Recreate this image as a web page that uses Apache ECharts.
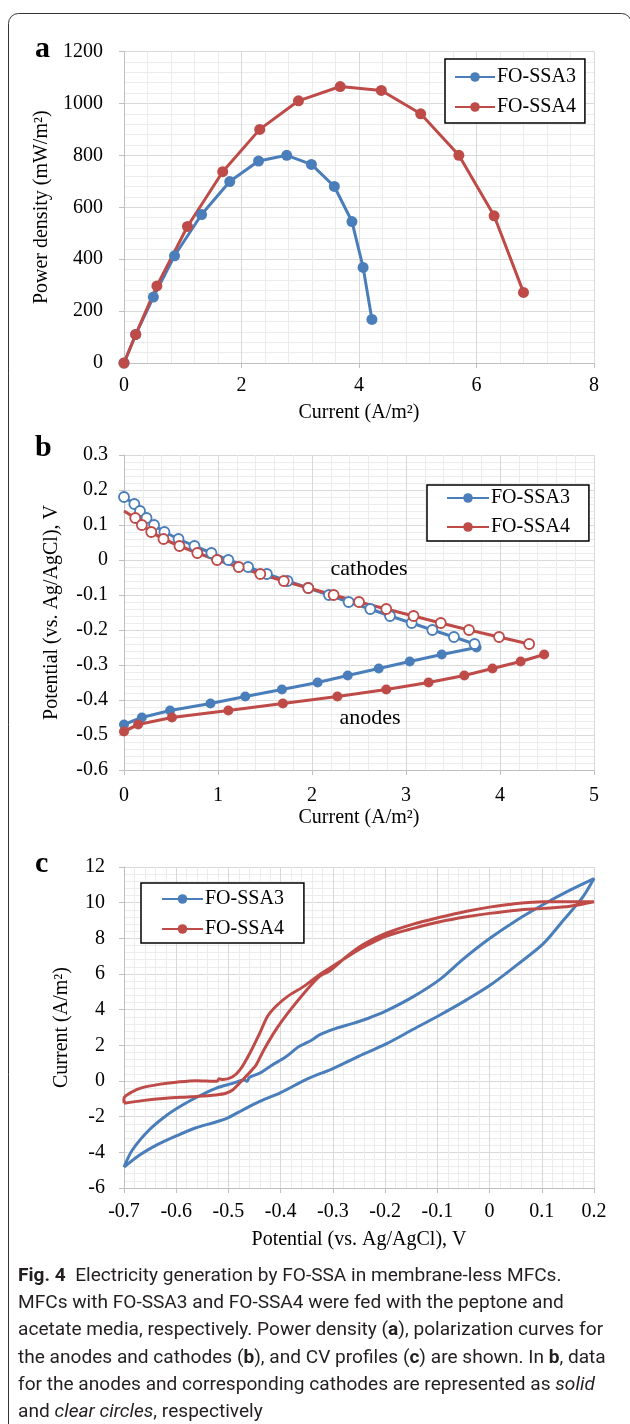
<!DOCTYPE html>
<html>
<head>
<meta charset="utf-8">
<script src="https://cdn.jsdelivr.net/npm/echarts@6/dist/echarts.min.js"></script>
<style>
html, body { margin: 0; padding: 0; background: #fff; }
#main { width: 630px; height: 1424px; }
</style>
</head>
<body>
<div id="main"></div>
<script>
// ---- panel a: power density vs current ----
var aSSA3X = [0, 0.2, 0.5, 0.86, 1.32, 1.80, 2.29, 2.77, 3.19, 3.58, 3.88, 4.07, 4.22];
var aSSA3Y = [0, 110, 254, 413, 572, 699, 778, 800, 765, 680, 545, 368, 168];
var aSSA4X = [0, 0.2, 0.56, 1.08, 1.68, 2.31, 2.97, 3.68, 4.38, 5.05, 5.70, 6.30, 6.80];
var aSSA4Y = [0, 110, 297, 526, 737, 900, 1010, 1065, 1050, 960, 800, 567, 272];

// ---- panel b: polarization curves ----
var bSSA3AnodeX = [0, 0.19, 0.49, 0.92, 1.29, 1.68, 2.06, 2.38, 2.71, 3.04, 3.38, 3.75];
var bSSA3AnodeY = [-0.47, -0.45, -0.43, -0.41, -0.39, -0.37, -0.35, -0.33, -0.31, -0.29, -0.27, -0.25];
var bSSA4AnodeX = [0, 0.15, 0.51, 1.11, 1.69, 2.27, 2.79, 3.24, 3.62, 3.92, 4.22, 4.47];
var bSSA4AnodeY = [-0.49, -0.47, -0.45, -0.43, -0.41, -0.39, -0.37, -0.35, -0.33, -0.31, -0.29, -0.27];
var bSSA3CathodeX = [0, 0.11, 0.17, 0.24, 0.32, 0.43, 0.58, 0.75, 0.93, 1.11, 1.32, 1.52, 1.74, 1.96, 2.18, 2.39, 2.62, 2.83, 3.06, 3.28, 3.51, 3.73];
var bSSA3CathodeY = [0.18, 0.16, 0.14, 0.12, 0.10, 0.08, 0.06, 0.04, 0.02, 0, -0.02, -0.04, -0.06, -0.08, -0.10, -0.12, -0.14, -0.16, -0.18, -0.20, -0.22, -0.24];
var bSSA4CathodeX = [0, 0.12, 0.19, 0.29, 0.42, 0.59, 0.78, 0.99, 1.22, 1.45, 1.70, 1.96, 2.23, 2.50, 2.79, 3.08, 3.37, 3.67, 3.99, 4.31];
var bSSA4CathodeY = [0.14, 0.12, 0.10, 0.08, 0.06, 0.04, 0.02, 0, -0.02, -0.04, -0.06, -0.08, -0.10, -0.12, -0.14, -0.16, -0.18, -0.20, -0.22, -0.24];

// ---- panel c: CV loops (potential, current) in scan order ----
var cSSA3V = [-0.7, -0.684, -0.652, -0.62, -0.588, -0.556, -0.524, -0.492, -0.47, -0.464, -0.46, -0.441, -0.416, -0.39, -0.365, -0.34, -0.325, -0.294, -0.263, -0.232, -0.2, -0.146, -0.095, -0.05, 0.0, 0.052, 0.103, 0.154, 0.2,
              0.185, 0.173, 0.141, 0.103, 0.052, 0.0, -0.044, -0.095, -0.146, -0.2, -0.25, -0.3, -0.35, -0.4, -0.441, -0.473, -0.5, -0.524, -0.562, -0.6, -0.638, -0.67, -0.7];
var cSSA3I = [-4.83, -3.87, -2.75, -1.96, -1.35, -0.84, -0.41, -0.13, 0.06, -0.02, 0.2, 0.43, 0.9, 1.36, 1.93, 2.3, 2.6, 2.95, 3.22, 3.52, 3.9, 4.73, 5.7, 6.85, 7.99, 9.02, 9.9, 10.7, 11.35,
              10.6, 10.1, 9.0, 7.7, 6.5, 5.35, 4.55, 3.7, 2.9, 2.05, 1.4, 0.7, 0.1, -0.65, -1.16, -1.63, -2.05, -2.3, -2.62, -3.08, -3.6, -4.15, -4.83];
var cSSA4V = [-0.7, -0.665, -0.62, -0.57, -0.524, -0.505, -0.492, -0.479, -0.467, -0.455, -0.447, -0.432, -0.409, -0.386, -0.355, -0.325, -0.305, -0.273, -0.242, -0.197, -0.146, -0.095, -0.044, 0.0, 0.052, 0.103, 0.154, 0.2,
              0.154, 0.103, 0.052, 0.0, -0.044, -0.095, -0.146, -0.197, -0.242, -0.273, -0.305, -0.325, -0.355, -0.386, -0.409, -0.425, -0.44, -0.459, -0.478, -0.492, -0.51, -0.518, -0.522, -0.562, -0.6, -0.633, -0.665, -0.684, -0.7, -0.7];
var cSSA4I = [-1.25, -1.1, -0.97, -0.88, -0.78, -0.69, -0.5, -0.13, 0.24, 0.62, 0.9, 1.75, 2.88, 3.82, 4.94, 5.88, 6.2, 7.0, 7.65, 8.3, 8.8, 9.18, 9.52, 9.75, 9.95, 10.05, 10.05, 10.05,
              9.8, 9.68, 9.58, 9.4, 9.21, 8.93, 8.56, 8.13, 7.5, 6.95, 6.35, 5.98, 5.32, 4.76, 4.19, 3.63, 2.69, 1.56, 0.62, 0.24, 0.08, 0.12, -0.02, 0.02, -0.07, -0.19, -0.37, -0.6, -0.97, -1.25];

var BLUE = '#4a7ebb';
var RED = '#be4b48';
var SERIF = '"Liberation Serif", "Times New Roman", serif';

function pairs(xs, ys) {
    var out = [];
    for (var i = 0; i < xs.length; i++) out.push([xs[i], ys[i]]);
    return out;
}

function plainNum(v) {
    return String(parseFloat(Number(v).toFixed(6)));
}

function makeAxis(idx, min, max, interval, name, margin, nameGap) {
    return {
        type: 'value', gridIndex: idx, min: min, max: max, interval: interval,
        name: name, nameLocation: 'middle', nameGap: nameGap,
        nameTextStyle: { fontFamily: SERIF, fontSize: 20, color: '#000' },
        axisLine: { show: true, onZero: false, lineStyle: { color: '#bfbfbf', width: 1 } },
        axisTick: { show: true, length: 5, lineStyle: { color: '#bfbfbf' } },
        axisLabel: { fontFamily: SERIF, fontSize: 20, color: '#000', margin: margin, formatter: plainNum },
        splitLine: { show: true, lineStyle: { color: '#d9d9d9', width: 1 } },
        minorTick: { show: false, splitNumber: 5 },
        minorSplitLine: { show: true, lineStyle: { color: '#ececec', width: 1 } }
    };
}

function makeLegend(names, left, top, padding, itemGap, itemWidth) {
    return {
        data: names, orient: 'vertical', left: left, top: top,
        padding: padding, itemGap: itemGap, itemWidth: itemWidth, itemHeight: 12,
        backgroundColor: '#fff', borderColor: '#000', borderWidth: 1.5,
        formatter: function (n) { return n.slice(2); },
        textStyle: { fontFamily: SERIF, fontSize: 20, color: '#000', padding: [0, 0, 0, -3] }
    };
}

var option = {
    animation: false,
    backgroundColor: '#fff',
    grid: [
        { left: 124, top: 51.5, width: 470, height: 311.5 },
        { left: 124, top: 455, width: 470, height: 315 },
        { left: 124, top: 867, width: 470, height: 321 }
    ],
    xAxis: [
        makeAxis(0, 0, 8, 2, 'Current (A/m²)', 13, 40),
        makeAxis(1, 0, 5, 1, 'Current (A/m²)', 16, 38),
        makeAxis(2, -0.7, 0.2, 0.1, 'Potential (vs. Ag/AgCl), V', 14, 42)
    ],
    yAxis: [
        makeAxis(0, 0, 1200, 200, 'Power density (mW/m²)', 21, 64),
        makeAxis(1, -0.6, 0.3, 0.1, 'Potential (vs. Ag/AgCl), V', 16, 62),
        makeAxis(2, -6, 12, 2, 'Current (A/m²)', 19, 52)
    ],
    legend: [
        makeLegend(['a:FO-SSA3', 'a:FO-SSA4'], 445, 59, [8, 9, 6, 9], 10, 40),
        makeLegend(['b:FO-SSA3', 'b:FO-SSA4'], 427, 485, [3, 19, 4, 19], 9, 42),
        makeLegend(['c:FO-SSA3', 'c:FO-SSA4'], 141, 883, [6, 20, 4, 20], 10, 41)
    ],
    series: [
        {
            type: 'line', name: 'a:FO-SSA3', xAxisIndex: 0, yAxisIndex: 0,
            data: pairs(aSSA3X, aSSA3Y), symbol: 'circle', symbolSize: 11,
            lineStyle: { color: BLUE, width: 3 }, itemStyle: { color: BLUE }
        },
        {
            type: 'line', name: 'a:FO-SSA4', xAxisIndex: 0, yAxisIndex: 0,
            data: pairs(aSSA4X, aSSA4Y), symbol: 'circle', symbolSize: 11,
            lineStyle: { color: RED, width: 3 }, itemStyle: { color: RED }
        },
        {
            type: 'line', name: 'b:FO-SSA3', xAxisIndex: 1, yAxisIndex: 1,
            data: pairs(bSSA3AnodeX, bSSA3AnodeY), symbol: 'circle', symbolSize: 10,
            lineStyle: { color: BLUE, width: 3 }, itemStyle: { color: BLUE }
        },
        {
            type: 'line', name: 'b:FO-SSA4', xAxisIndex: 1, yAxisIndex: 1,
            data: pairs(bSSA4AnodeX, bSSA4AnodeY), symbol: 'circle', symbolSize: 10,
            lineStyle: { color: RED, width: 3.2 }, itemStyle: { color: RED }
        },
        {
            type: 'line', name: 'b:FO-SSA3', xAxisIndex: 1, yAxisIndex: 1,
            data: pairs(bSSA3CathodeX, bSSA3CathodeY), symbol: 'circle', symbolSize: 10,
            lineStyle: { color: BLUE, width: 3 },
            itemStyle: { color: '#fff', borderColor: BLUE, borderWidth: 1.8 }
        },
        {
            type: 'line', name: 'b:FO-SSA4', xAxisIndex: 1, yAxisIndex: 1,
            data: pairs(bSSA4CathodeX, bSSA4CathodeY).map(function (p, i) {
                return i === 0 ? { value: p, symbol: 'none' } : p;
            }),
            symbol: 'circle', symbolSize: 10,
            lineStyle: { color: RED, width: 3.2 },
            itemStyle: { color: '#fff', borderColor: RED, borderWidth: 1.8 }
        },
        {
            type: 'line', name: 'c:FO-SSA3', xAxisIndex: 2, yAxisIndex: 2,
            data: pairs(cSSA3V, cSSA3I), symbol: 'none', smooth: 0.3,
            lineStyle: { color: BLUE, width: 3 }, itemStyle: { color: BLUE }
        },
        {
            type: 'line', name: 'c:FO-SSA4', xAxisIndex: 2, yAxisIndex: 2,
            data: pairs(cSSA4V, cSSA4I), symbol: 'none', smooth: 0.3,
            lineStyle: { color: RED, width: 3 }, itemStyle: { color: RED }
        }
    ]
};

// caption font size fitted to the width of the original caption lines
var CAP_FONT = 'Roboto, "Noto Sans", sans-serif';
var capLines = [
    '{b|Fig. 4}  Electricity generation by FO-SSA in membrane-less MFCs.',
    'MFCs with FO-SSA3 and FO-SSA4 were fed with the peptone and',
    'acetate media, respectively. Power density ({b|a}), polarization curves for',
    'the anodes and cathodes ({b|b}), and CV profiles ({b|c}) are shown. In {b|b}, data',
    'for the anodes and corresponding cathodes are represented as {i|solid}',
    'and {i|clear circles}, respectively'
];
var ctx = document.createElement('canvas').getContext('2d');
ctx.font = '20px ' + CAP_FONT;
var w3 = ctx.measureText('acetate media, respectively. Power density (a), polarization curves for').width;
var capSize = Math.round(20 * 587 / w3 * 10) / 10;

var graphic = [
    {
        type: 'rect', silent: true, z: -1,
        shape: { x: 8.5, y: 13.5, width: 623, height: 1480, r: 10 },
        style: { fill: 'none', stroke: '#333', lineWidth: 1 }
    },
    { type: 'text', z: 100, style: { text: 'a', x: 35, y: 64, font: 'bold 30px ' + SERIF, fill: '#000', verticalAlign: 'bottom' } },
    { type: 'text', z: 100, style: { text: 'b', x: 35, y: 463, font: 'bold 30px ' + SERIF, fill: '#000', verticalAlign: 'bottom' } },
    { type: 'text', z: 100, style: { text: 'c', x: 35, y: 879, font: 'bold 30px ' + SERIF, fill: '#000', verticalAlign: 'bottom' } },
    { type: 'text', z: 100, style: { text: 'cathodes', x: 369, y: 569, font: '22px ' + SERIF, fill: '#000', align: 'center', verticalAlign: 'middle' } },
    { type: 'text', z: 100, style: { text: 'anodes', x: 370, y: 718, font: '22px ' + SERIF, fill: '#000', align: 'center', verticalAlign: 'middle' } }
];
capLines.forEach(function (t, i) {
    graphic.push({
        type: 'text', z: 100,
        style: {
            text: t, x: 18, y: 1276 + i * 27.3,
            fontFamily: CAP_FONT, fontSize: capSize, fill: '#231f20', verticalAlign: 'middle',
            rich: {
                b: { fontFamily: CAP_FONT, fontSize: capSize, fontWeight: 'bold', fill: '#231f20' },
                i: { fontFamily: CAP_FONT, fontSize: capSize, fontStyle: 'italic', fill: '#231f20' }
            }
        }
    });
});
option.graphic = graphic;

var chart = echarts.init(document.getElementById('main'), null, { renderer: 'canvas' });
chart.setOption(option);
</script>
</body>
</html>
